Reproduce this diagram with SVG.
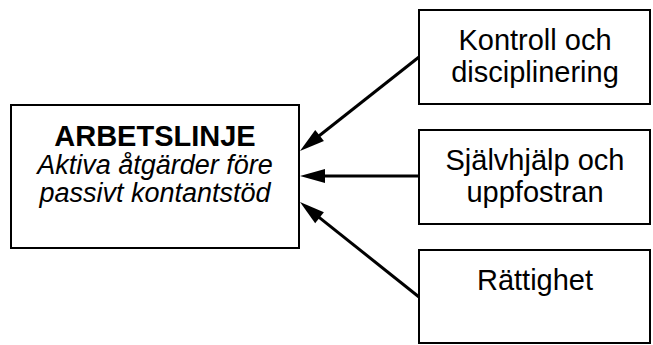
<svg xmlns="http://www.w3.org/2000/svg" width="653" height="345" viewBox="0 0 653 345">
<style>
.box{fill:#fff;stroke:#000;stroke-width:2}
.t{font-family:"Liberation Sans",Arial,sans-serif;font-size:29px;fill:#000;text-anchor:middle}
.b{font-weight:bold;font-size:29px}
.i{font-style:italic;font-size:27px}
.c{stroke:#000;stroke-width:3;fill:none;marker-end:url(#ah)}
</style>
<defs>
<marker id="ah" markerUnits="userSpaceOnUse" markerWidth="25" markerHeight="14" refX="15" refY="7" orient="auto" overflow="visible">
<path d="M0,0 L25,7 L0,14 z" fill="#000"/>
</marker>
</defs>
<rect width="653" height="345" fill="#fff"/>
<g id="arbetslinje">
<rect class="box" x="11" y="105" width="288" height="143"/>
<text class="t b" x="155" y="146">ARBETSLINJE</text>
<text class="t i" x="155" y="174">Aktiva åtgärder före</text>
<text class="t i" x="155" y="202">passivt kontantstöd</text>
</g>
<g id="kontroll">
<rect class="box" x="419" y="10" width="231" height="94"/>
<text class="t" x="535" y="50">Kontroll och</text>
<text class="t" x="535" y="82">disciplinering</text>
</g>
<g id="sjalvhjalp">
<rect class="box" x="419" y="130" width="231" height="94"/>
<text class="t" x="535" y="170">Självhjälp och</text>
<text class="t" x="535" y="202">uppfostran</text>
</g>
<g id="rattighet">
<rect class="box" x="419" y="250" width="231" height="93"/>
<text class="t" x="535" y="290">Rättighet</text>
</g>
<g id="connectors">
<line class="c" x1="419" y1="57" x2="307.8" y2="144.8"/>
<line class="c" x1="419" y1="176" x2="310" y2="176"/>
<line class="c" x1="419" y1="297" x2="307.8" y2="208.3"/>
</g>
</svg>
